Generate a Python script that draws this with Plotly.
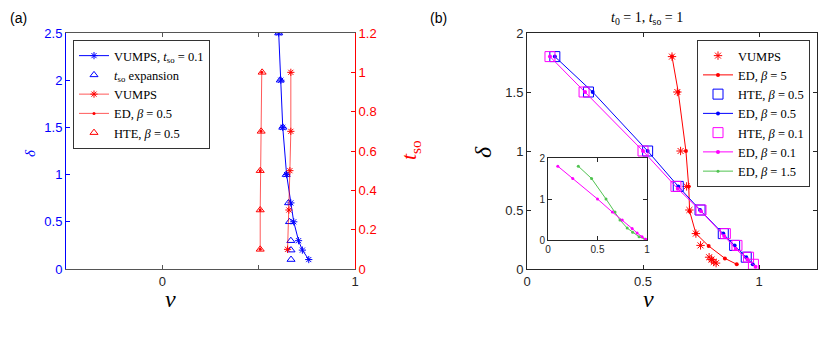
import plotly.graph_objects as go

# ---------- panel (a): delta / t_so vs nu ----------
a_vumps_nu = [0.604, 0.615, 0.625, 0.645, 0.667, 0.682, 0.707, 0.727, 0.76]
a_vumps_delta = [2.5, 2.0, 1.5, 1.0, 0.7, 0.5, 0.3, 0.2, 0.1]
a_exp_nu = [0.604, 0.612, 0.625, 0.643, 0.655, 0.66, 0.667, 0.668, 0.668]
a_exp_delta = [2.5, 2.0, 1.5, 1.0, 0.7, 0.5, 0.3, 0.2, 0.1]
a_tso = [1.0, 0.7, 0.5, 0.3, 0.1]
a_vumps_red_nu = [0.667, 0.667, 0.662, 0.657, 0.65]
a_ed_nu = [0.516, 0.512, 0.508, 0.508, 0.508]
a_hte_nu = [0.518, 0.513, 0.508, 0.508, 0.508]

# ---------- panel (b): delta vs nu ----------
b_vumps_nu = [0.625, 0.648, 0.662, 0.688, 0.70, 0.728, 0.748, 0.785, 0.795, 0.805, 0.815]
b_vumps_delta = [1.8, 1.5, 1.0, 0.7, 0.5, 0.3, 0.2, 0.1, 0.08, 0.06, 0.05]
b_ed5_nu = [0.625, 0.652, 0.685, 0.697, 0.701, 0.728, 0.783, 0.853, 0.904]
b_ed5_delta = [1.8, 1.5, 1.0, 0.7, 0.49, 0.3, 0.195, 0.09, 0.04]
b_hte05_nu = [0.12, 0.265, 0.52, 0.652, 0.746, 0.846, 0.895, 0.945]
b_hte05_delta = [1.8, 1.5, 1.0, 0.7, 0.5, 0.3, 0.2, 0.1]
b_ed05_nu = [0.12, 0.283, 0.52, 0.652, 0.746, 0.846, 0.895, 0.945, 0.973]
b_ed05_delta = [1.8, 1.5, 1.0, 0.7, 0.5, 0.3, 0.2, 0.1, 0.04]
b_hte01_nu = [0.099, 0.246, 0.50, 0.642, 0.75, 0.855, 0.905, 0.955, 0.976]
b_hte01_delta = [1.8, 1.5, 1.0, 0.7, 0.5, 0.3, 0.2, 0.1, 0.04]
b_ed01_nu = [0.099, 0.25, 0.50, 0.65, 0.75, 0.85, 0.90, 0.95, 0.985]
b_ed01_delta = [1.8, 1.5, 1.0, 0.68, 0.49, 0.28, 0.17, 0.08, 0.02]
b_ed15_nu = [0.306, 0.44, 0.586, 0.677, 0.727, 0.80, 0.855, 0.92, 0.98]
b_ed15_delta = [1.8, 1.5, 1.0, 0.68, 0.49, 0.29, 0.19, 0.08, 0.02]

W, H = 830, 344
OFF = 8  # page body margin
BLUE = "rgb(0,0,255)"
RED = "rgb(255,0,0)"
RED_L = "rgba(255,0,0,0.65)"
MAG = "rgb(255,0,255)"
GREEN = "rgb(80,195,80)"
AX = "#262626"
SERIF = "Liberation Serif"
SANS = "Liberation Sans"

def px_x(p):
    return (p - OFF) / W

def px_y(p):
    return 1 - (p - OFF) / H

fig = go.Figure()

# panel (a)
fig.add_trace(go.Scatter(x=a_vumps_nu, y=a_vumps_delta, mode="lines+markers",
                         name="VUMPS, <i>t</i><sub>so</sub> = 0.1",
                         line=dict(color=BLUE, width=1),
                         marker=dict(symbol="asterisk-open", size=6, color=BLUE, line=dict(color=BLUE, width=1)),
                         xaxis="x", yaxis="y", legend="legend"))
fig.add_trace(go.Scatter(x=a_exp_nu, y=a_exp_delta, mode="markers",
                         name="<i>t</i><sub>so</sub> expansion",
                         marker=dict(symbol="triangle-up-open", size=7, color=BLUE, line=dict(color=BLUE, width=1)),
                         xaxis="x", yaxis="y", legend="legend"))
fig.add_trace(go.Scatter(x=a_vumps_red_nu, y=a_tso, mode="lines+markers",
                         name="VUMPS",
                         line=dict(color=RED_L, width=1),
                         marker=dict(symbol="asterisk-open", size=6, color=RED, line=dict(color=RED, width=1)),
                         xaxis="x", yaxis="y2", legend="legend"))
fig.add_trace(go.Scatter(x=a_ed_nu, y=a_tso, mode="lines+markers",
                         name="ED, <i>β</i> = 0.5",
                         line=dict(color=RED_L, width=1),
                         marker=dict(symbol="circle", size=3, color=RED),
                         xaxis="x", yaxis="y2", legend="legend"))
fig.add_trace(go.Scatter(x=a_hte_nu, y=a_tso, mode="markers",
                         name="HTE, <i>β</i> = 0.5",
                         marker=dict(symbol="triangle-up-open", size=7, color=RED, line=dict(color=RED, width=1)),
                         xaxis="x", yaxis="y2", legend="legend"))

# panel (b)
fig.add_trace(go.Scatter(x=b_vumps_nu, y=b_vumps_delta, mode="markers", name="VUMPS",
                         marker=dict(symbol="asterisk-open", size=7, color=RED, line=dict(color=RED, width=1)),
                         xaxis="x2", yaxis="y3", legend="legend2"))
fig.add_trace(go.Scatter(x=b_ed5_nu, y=b_ed5_delta, mode="lines+markers", name="ED, <i>β</i> = 5",
                         line=dict(color=RED, width=1),
                         marker=dict(symbol="circle", size=4, color=RED),
                         xaxis="x2", yaxis="y3", legend="legend2"))
fig.add_trace(go.Scatter(x=b_hte05_nu, y=b_hte05_delta, mode="markers", name="HTE, <i>β</i> = 0.5",
                         marker=dict(symbol="square-open", size=10, color=BLUE, line=dict(color=BLUE, width=1)),
                         xaxis="x2", yaxis="y3", legend="legend2"))
fig.add_trace(go.Scatter(x=b_ed05_nu, y=b_ed05_delta, mode="lines+markers", name="ED, <i>β</i> = 0.5",
                         line=dict(color=BLUE, width=1),
                         marker=dict(symbol="circle", size=4, color=BLUE),
                         xaxis="x2", yaxis="y3", legend="legend2"))
fig.add_trace(go.Scatter(x=b_hte01_nu, y=b_hte01_delta, mode="markers", name="HTE, <i>β</i> = 0.1",
                         marker=dict(symbol="square-open", size=10, color=MAG, line=dict(color=MAG, width=1)),
                         xaxis="x2", yaxis="y3", legend="legend2"))
fig.add_trace(go.Scatter(x=b_ed01_nu, y=b_ed01_delta, mode="lines+markers", name="ED, <i>β</i> = 0.1",
                         line=dict(color=MAG, width=1),
                         marker=dict(symbol="circle", size=4, color=MAG),
                         xaxis="x2", yaxis="y3", legend="legend2"))
# inset
fig.add_trace(go.Scatter(x=b_ed15_nu, y=b_ed15_delta, mode="lines+markers", name="ED, <i>β</i> = 1.5",
                         line=dict(color=GREEN, width=1),
                         marker=dict(symbol="circle", size=3, color=GREEN),
                         xaxis="x3", yaxis="y4", legend="legend2"))
fig.add_trace(go.Scatter(x=b_ed01_nu, y=b_ed01_delta, mode="lines+markers", showlegend=False,
                         line=dict(color=MAG, width=1),
                         marker=dict(symbol="circle", size=3, color=MAG),
                         xaxis="x3", yaxis="y4"))

tickfont = dict(family=SANS, size=13, color=AX)
common = dict(showgrid=False, zeroline=False, ticks="inside", ticklen=4, showline=True, linewidth=1,
              automargin=False)

legend_style = dict(xanchor="left", yanchor="top", bgcolor="white", bordercolor="#333333", borderwidth=1,
                    font=dict(family=SERIF, size=12.5, color="black"), tracegroupgap=0, itemwidth=30)

fig.update_layout(
    width=W, height=H,
    margin=dict(l=0, r=0, t=0, b=0, pad=0, autoexpand=False),
    plot_bgcolor="white", paper_bgcolor="white",
    xaxis=dict(domain=[px_x(66), px_x(355)], range=[-0.5, 1], anchor="y",
               tickvals=[0, 0.5, 1], ticktext=["0", "", "1"], mirror="ticks",
               linecolor="#555555", tickcolor="#555555", tickfont=tickfont, **common),
    yaxis=dict(domain=[px_y(269), px_y(33)], range=[0, 2.5], anchor="x",
               tickvals=[0, 0.5, 1, 1.5, 2, 2.5], ticktext=["0", "0.5", "1", "1.5", "2", "2.5"],
               linecolor=BLUE, tickcolor=BLUE, tickfont=dict(family=SANS, size=13, color=BLUE), **common),
    yaxis2=dict(range=[0, 1.2], overlaying="y", side="right", anchor="x",
                tickvals=[0, 0.2, 0.4, 0.6, 0.8, 1, 1.2], ticktext=["0", "0.2", "0.4", "0.6", "0.8", "1", "1.2"],
                linecolor=RED, tickcolor=RED, tickfont=dict(family=SANS, size=13, color=RED), **common),
    xaxis2=dict(domain=[px_x(527), px_x(817)], range=[0, 1.25], anchor="y3",
                tickvals=[0, 0.5, 1], ticktext=["0", "0.5", "1"], mirror="ticks",
                linecolor=AX, tickcolor=AX, tickfont=tickfont, **common),
    yaxis3=dict(domain=[px_y(269), px_y(33)], range=[0, 2], anchor="x2",
                tickvals=[0, 0.5, 1, 1.5, 2], ticktext=["0", "0.5", "1", "1.5", "2"], mirror="ticks",
                linecolor=AX, tickcolor=AX, tickfont=tickfont, **common),
    xaxis3=dict(domain=[px_x(548), px_x(647)], range=[0, 1], anchor="y4",
                tickvals=[0, 0.5, 1], ticktext=["0", "0.5", "1"], mirror="ticks",
                linecolor=AX, tickcolor=AX, tickfont=dict(family=SANS, size=10, color=AX), **common),
    yaxis4=dict(domain=[px_y(240), px_y(158)], range=[0, 2], anchor="x3",
                tickvals=[0, 1, 2], ticktext=["0", "1", "2"], mirror="ticks",
                linecolor=AX, tickcolor=AX, tickfont=dict(family=SANS, size=10, color=AX), **common),
    legend=dict(x=px_x(73), y=px_y(40), **legend_style),
    legend2=dict(x=px_x(697), y=px_y(40), **legend_style),
)

ann = [
    dict(x=0, y=1, text="(a)", xanchor="left", yanchor="top",
         font=dict(family=SANS, size=14, color="black")),
    dict(x=px_x(428), y=1, text="(b)", xanchor="left", yanchor="top",
         font=dict(family=SANS, size=14, color="black")),
    dict(x=px_x(647), y=1, text="<i>t</i><sub>0</sub> = 1, <i>t</i><sub>so</sub> = 1",
         xanchor="center", yanchor="top", font=dict(family=SERIF, size=14, color="black")),
    dict(x=px_x(30), y=px_y(153), text="<i>δ</i>", textangle=-90, xanchor="center", yanchor="middle",
         font=dict(family=SERIF, size=15, color=BLUE)),
    dict(x=px_x(410), y=px_y(150), text="<i>t</i><sub>so</sub>", textangle=-90, xanchor="center", yanchor="middle",
         font=dict(family=SERIF, size=22, color=RED)),
    dict(x=px_x(170), y=px_y(299), text="<i>ν</i>", xanchor="center", yanchor="middle",
         font=dict(family=SERIF, size=24, color="black")),
    dict(x=px_x(648), y=px_y(299), text="<i>ν</i>", xanchor="center", yanchor="middle",
         font=dict(family=SERIF, size=24, color="black")),
    dict(x=px_x(483), y=px_y(152), text="<i>δ</i>", textangle=-90, xanchor="center", yanchor="middle",
         font=dict(family=SERIF, size=24, color="black")),
]
for a in ann:
    a.update(xref="paper", yref="paper", showarrow=False)
fig.update_layout(annotations=ann)

fig.write_html("out.html")
